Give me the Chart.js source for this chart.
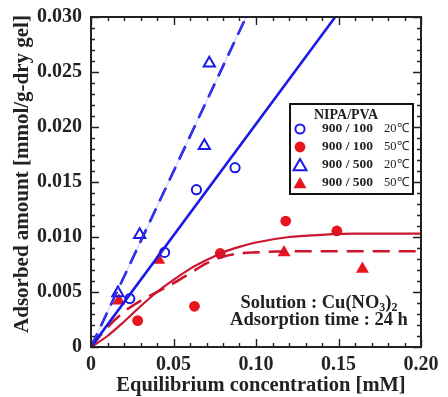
<!DOCTYPE html>
<html>
<head>
<meta charset="utf-8">
<script src="https://cdn.jsdelivr.net/npm/chart.js@4.4.0/dist/chart.umd.min.js"></script>
<style>
  html, body { margin: 0; padding: 0; background: #fff; }
  #wrap { width: 448px; height: 397px; }
</style>
</head>
<body>
<div id="wrap"><canvas id="myChart" width="448" height="397"></canvas></div>
<script>
// measured points, x = equilibrium conc. [mM], y = adsorbed amount [mmol/g-dry gel]
const c100_20X = [0.0235, 0.0446, 0.0639, 0.0873];
const c100_20Y = [0.0044, 0.0086, 0.0143, 0.0163];
const c100_50X = [0.0283, 0.0627, 0.0783, 0.118, 0.149];
const c100_50Y = [0.0024, 0.0037, 0.0085, 0.01145, 0.01055];
const c500_20X = [0.0163, 0.0295, 0.0687, 0.0717];
const c500_20Y = [0.0049, 0.0102, 0.0183, 0.0258];
const c500_50X = [0.0169, 0.041, 0.117, 0.1645];
const c500_50Y = [0.0042, 0.0079, 0.0086, 0.0071];

// fit curves
const fit100_20X = [0, 0.148];
const fit100_20Y = [0, 0.030];
const fit500_20X = [0, 0.094];
const fit500_20Y = [0, 0.030];
const fit100_50X = [0, 0.01, 0.02, 0.03, 0.04, 0.05, 0.06, 0.07, 0.08, 0.09, 0.10, 0.12, 0.14, 0.16, 0.18, 0.20];
const fit100_50Y = [0, 0.0010, 0.0023, 0.0037, 0.0050, 0.0061, 0.0071, 0.0079, 0.0086, 0.0091, 0.0095, 0.0100, 0.0102, 0.0103, 0.0103, 0.0103];
const fit500_50X = [0, 0.01, 0.02, 0.03, 0.04, 0.05, 0.06, 0.07, 0.08, 0.09, 0.10, 0.12, 0.20];
const fit500_50Y = [0, 0.0018, 0.0032, 0.0042, 0.0050, 0.0058, 0.0067, 0.0076, 0.0082, 0.0085, 0.0086, 0.0087, 0.0087];

const xTicks = [0, 0.05, 0.10, 0.15, 0.20];
const yTicks = [0, 0.005, 0.010, 0.015, 0.020, 0.025, 0.030];

const xTitle = 'Equilibrium concentration [mM]';
const yTitle = 'Adsorbed amount [mmol/g-dry gel]';
const legendTitle = 'NIPA/PVA';
const legendRatio = ['900 / 100', '900 / 100', '900 / 500', '900 / 500'];
const legendTemp = ['20\u2103', '50\u2103', '20\u2103', '50\u2103'];

const BLUE = '#1a1ae6';
const RED = '#e8141e';
const RED_LINE = '#cc1630';
const INK = '#222';
const SERIF = '"Liberation Serif", "Times New Roman", serif';

const pts = (xs, ys) => xs.map((x, i) => ({x: x, y: ys[i]}));

const markerSets = [
    {label: legendRatio[0] + ' ' + legendTemp[0], data: pts(c100_20X, c100_20Y), pointStyle: 'circle', pointRadius: 4.6,
     pointBorderWidth: 2, pointBorderColor: BLUE, pointBackgroundColor: 'rgba(0,0,0,0)'},
    {label: legendRatio[1] + ' ' + legendTemp[1], data: pts(c100_50X, c100_50Y), pointStyle: 'circle', pointRadius: 5.4,
     pointBorderWidth: 0, pointBorderColor: RED, pointBackgroundColor: RED},
    {label: legendRatio[2] + ' ' + legendTemp[2], data: pts(c500_20X, c500_20Y), pointStyle: 'triangle', pointRadius: 6.5,
     pointBorderWidth: 2, pointBorderColor: BLUE, pointBackgroundColor: 'rgba(0,0,0,0)'},
    {label: legendRatio[3] + ' ' + legendTemp[3], data: pts(c500_50X, c500_50Y), pointStyle: 'triangle', pointRadius: 7.5,
     pointBorderWidth: 0, pointBorderColor: RED, pointBackgroundColor: RED},
];

const lineSets = [
    {data: pts(fit500_20X, fit500_20Y), borderColor: 'rgba(120,120,255,0.45)', borderWidth: 1},
    {data: pts(fit500_20X, fit500_20Y), borderColor: BLUE, borderWidth: 2.6, borderDash: [15, 8]},
    {data: pts(fit100_20X, fit100_20Y), borderColor: BLUE, borderWidth: 2.6},
    {data: pts(fit100_50X, fit100_50Y), borderColor: RED_LINE, borderWidth: 2.2, cubicInterpolationMode: 'monotone'},
    {data: pts(fit500_50X, fit500_50Y), borderColor: RED_LINE, borderWidth: 2.6, borderDash: [17, 9], cubicInterpolationMode: 'monotone'},
].map(d => Object.assign({showLine: true, pointRadius: 0, fill: false}, d));

// box with inward ticks on all four sides, plus axis titles
const framePlugin = {
    id: 'frame',
    afterDraw(chart) {
        const {ctx, chartArea: a, scales: {x, y}} = chart;
        ctx.save();
        ctx.strokeStyle = INK;
        ctx.lineWidth = 1.4;
        ctx.beginPath();
        for (let i = 0; i <= 20; i++) {
            const px = Math.round(x.getPixelForValue(i / 100)) + 0.5;
            const len = i % 5 === 0 ? 8 : 4;
            ctx.moveTo(px, a.bottom); ctx.lineTo(px, a.bottom - len);
            ctx.moveTo(px, a.top); ctx.lineTo(px, a.top + len);
        }
        for (let i = 0; i <= 30; i++) {
            const py = Math.round(y.getPixelForValue(i / 1000)) + 0.5;
            const len = i % 5 === 0 ? 8 : 4;
            ctx.moveTo(a.left, py); ctx.lineTo(a.left + len, py);
            ctx.moveTo(a.right, py); ctx.lineTo(a.right - len, py);
        }
        ctx.stroke();
        ctx.lineWidth = 2;
        ctx.strokeRect(a.left, a.top, a.width, a.height);

        ctx.fillStyle = INK;
        ctx.textAlign = 'center';
        ctx.textBaseline = 'middle';
        ctx.font = 'bold 20.5px ' + SERIF;
        ctx.fillText(xTitle, 261, 386);
        ctx.translate(23, 174);
        ctx.rotate(-Math.PI / 2);
        ctx.font = 'bold 21px ' + SERIF;
        ctx.fillText(yTitle, 0, 0);
        ctx.restore();
    }
};

// legend box and the solution note
const notePlugin = {
    id: 'notes',
    afterDatasetsDraw(chart) {
        const {ctx} = chart;
        ctx.save();
        const bx = 290, by = 104, bw = 123, bh = 90;
        ctx.fillStyle = '#fff';
        ctx.fillRect(bx, by, bw, bh);
        ctx.strokeStyle = '#111';
        ctx.lineWidth = 2;
        ctx.strokeRect(bx, by, bw, bh);
        ctx.fillStyle = INK;
        ctx.textBaseline = 'middle';
        ctx.textAlign = 'center';
        ctx.font = 'bold 14px ' + SERIF;
        ctx.fillText(legendTitle, 346, 115);
        const rowY = [129, 147, 165, 183];
        markerSets.forEach((ds, i) => {
            ctx.fillStyle = ds.pointBackgroundColor;
            ctx.strokeStyle = ds.pointBorderColor;
            Chart.helpers.drawPoint(ctx, {
                pointStyle: ds.pointStyle,
                radius: ds.pointStyle === 'circle' ? ds.pointRadius : 7.5,
                rotation: 0,
                borderWidth: ds.pointBorderWidth
            }, 300, rowY[i] + (ds.pointStyle === 'triangle' ? 1.5 : 0));
            ctx.fillStyle = INK;
            ctx.textAlign = 'left';
            ctx.font = 'bold 13.5px ' + SERIF;
            ctx.fillText(legendRatio[i], 322, rowY[i]);
            ctx.font = '12.5px ' + SERIF;
            ctx.fillText(legendTemp[i], 384, rowY[i]);
        });

        // Solution : Cu(NO3)2 / Adsorption time : 24 h
        const big = 'bold 18.5px ' + SERIF, sub = 'bold 12px ' + SERIF;
        const parts = [['Solution : Cu(NO', big, 0], ['3', sub, 5], [')', big, 0], ['2', sub, 5]];
        ctx.textAlign = 'left';
        let w = 0;
        parts.forEach(p => { ctx.font = p[1]; w += ctx.measureText(p[0]).width; });
        let tx = 319 - w / 2;
        parts.forEach(p => {
            ctx.font = p[1];
            ctx.fillText(p[0], tx, 303 + p[2]);
            tx += ctx.measureText(p[0]).width;
        });
        ctx.font = big;
        ctx.textAlign = 'center';
        ctx.fillText('Adsorption time : 24 h', 319, 320);
        ctx.restore();
    }
};

const ctx = document.getElementById('myChart').getContext('2d');
const myChart = new Chart(ctx, {
    type: 'scatter',
    data: {datasets: [...lineSets, ...markerSets]},
    options: {
        responsive: false,
        animation: false,
        layout: {padding: {top: 17, right: 27, left: 0, bottom: 0}},
        plugins: {legend: {display: false}, tooltip: {enabled: false}},
        scales: {
            x: {
                min: 0, max: 0.2,
                afterFit: s => { s.height = 50; },
                afterBuildTicks: s => { s.ticks = xTicks.map(v => ({value: v})); },
                grid: {display: false},
                border: {display: false},
                ticks: {
                    padding: -2,
                    color: INK,
                    font: {family: SERIF, size: 20, weight: 'bold'},
                    maxRotation: 0,
                    callback: v => v === 0 ? '0' : v.toFixed(2)
                }
            },
            y: {
                min: 0, max: 0.03,
                afterFit: s => { s.width = 91; },
                afterBuildTicks: s => { s.ticks = yTicks.map(v => ({value: v})); },
                grid: {display: false},
                border: {display: false},
                ticks: {
                    padding: 1,
                    color: INK,
                    font: {family: SERIF, size: 20, weight: 'bold'},
                    callback: v => v === 0 ? '0' : v.toFixed(3)
                }
            }
        }
    },
    plugins: [framePlugin, notePlugin]
});
</script>
</body>
</html>
